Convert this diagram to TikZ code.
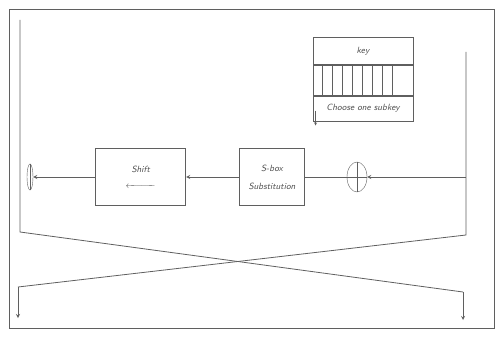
\documentclass[tikz,border=0pt]{standalone}
\usepackage{amsmath,amssymb}
\usetikzlibrary{shapes,arrows,positioning,calc}
\definecolor{feistline}{RGB}{95,95,95}
\definecolor{feisttext}{RGB}{80,80,80}

\begin{document}
\begin{tikzpicture}[x=1pt, y=-1pt, >=stealth,
  every node/.style={font=\sffamily\itshape\small, text=feisttext},
  blk/.style={draw=feistline, thick, minimum width=90pt, minimum height=57pt, align=center},
  xorgate/.style={draw=feistline, ellipse, minimum width=20pt, minimum height=30pt, inner sep=0pt},
  wire/.style={draw=feistline, thick}]
  \useasboundingbox (0,0) rectangle (498,337);
  \draw[wire] (9,9) rectangle (494,328);

  \node[blk, minimum width=65pt] (sbox) at (272,177) {S-box\\[7pt]Substitution};
  \node[blk, left=53pt of sbox] (shift) {Shift\\[5pt]$\xleftarrow{\hspace{24pt}}$};
  \node[xorgate] (xorr) at (357,177) {};
  \node[xorgate, minimum width=6pt, minimum height=26pt] (xorl) at (30,177) {};
  \draw[feistline] (xorr.north) -- (xorr.south) (xorr.west) -- (xorr.east)
    (xorl.north) -- (xorl.south);

  % key register
  \node[draw=feistline, thick, minimum width=100pt, minimum height=27pt] (keytop) at (363,51) {key};
  \node[draw=feistline, thick, minimum width=100pt, minimum height=30pt, below=0pt of keytop] (keycells) {};
  \node[draw=feistline, thick, minimum width=100pt, minimum height=25pt, below=0pt of keycells] (keysub) {Choose one subkey};
  \foreach \i in {1,...,8}
    \draw[feistline] ($(keycells.north west)+(10*\i,0)$) -- ($(keycells.south west)+(10*\i,0)$);
  \coordinate (keyout) at ($(keysub.south west)+(3,4)$);
  \draw[feistline, ->] ($(keysub.west)+(3,2)$) -- (keyout);

  % halves and swap
  \coordinate (ltop) at (20,20);
  \coordinate (lbend) at (20,232);
  \coordinate (rtop) at (466,52);
  \coordinate (rbend) at (466,235);
  \coordinate (lcross) at (18,287);
  \coordinate (rcross) at (463,292);
  \coordinate (lout) at (18,318);
  \coordinate (rout) at (463,320);

  \draw[wire] (ltop) -- (lbend) -- (rcross);
  \draw[wire, ->] (rcross) -- (rout);
  \draw[wire] (rtop) -- (rbend) -- (lcross);
  \draw[wire, ->] (lcross) -- (lout);

  \draw[wire, ->] (rtop |- xorr) -- (xorr);
  \draw[wire] (xorr) -- (sbox);
  \draw[wire, ->] (sbox) -- (shift);
  \draw[wire, ->] (shift) -- (xorl);
\end{tikzpicture}
\end{document}
